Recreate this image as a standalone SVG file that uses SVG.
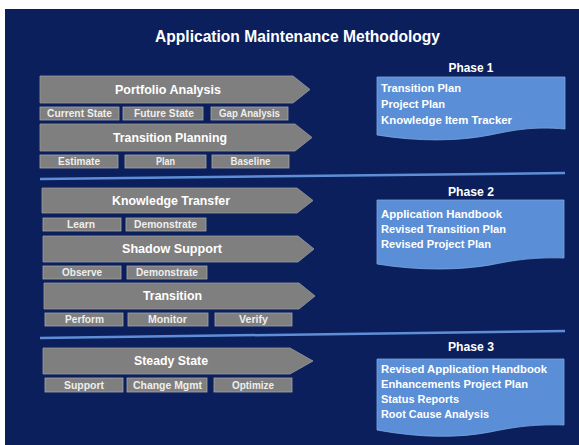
<svg xmlns="http://www.w3.org/2000/svg" width="579" height="445" viewBox="0 0 579 445">
<style>
.arr{fill:#7f7f7f;stroke:#9a9a9a;stroke-width:0.8}
.sub{fill:#7f7f7f;stroke:#a6a6a6;stroke-width:0.8}
.doc{fill:#5a8ed6;stroke:#7fa8e2;stroke-width:0.8}
.sep{stroke:#5e8fd6;stroke-width:2.5;fill:none}
text{font-family:"Liberation Sans",Arial,sans-serif;font-weight:bold;fill:#ffffff}
.at{font-size:13px;text-anchor:middle}
.st{font-size:10px;text-anchor:middle;fill:#eeeeee}
.dt{font-size:11px}
.ph{font-size:13px;text-anchor:middle}
</style>
<rect x="0" y="0" width="579" height="445" fill="#ffffff"/>
<rect x="5" y="9" width="574" height="436" fill="#0b1f5c"/>
<text x="297.5" y="42" style="font-size:16px;text-anchor:middle" textLength="285" lengthAdjust="spacingAndGlyphs">Application  Maintenance Methodology</text>

<g id="connectors">
<line class="sep" x1="40" y1="179" x2="565" y2="173"/>
<line class="sep" x1="40" y1="338" x2="565" y2="331"/>
</g>

<g id="portfolio-analysis">
<path class="arr" d="M40,76 H293 L310,89.5 L293,103 H40 Z"/>
<text class="at" x="168" y="94" textLength="106" lengthAdjust="spacingAndGlyphs">Portfolio Analysis</text>
</g>
<g id="current-state"><rect class="sub" x="40" y="107" width="79" height="13"/><text class="st" x="79.5" y="117" textLength="65" lengthAdjust="spacingAndGlyphs">Current State</text></g>
<g id="future-state"><rect class="sub" x="123" y="107" width="80" height="13"/><text class="st" x="164" y="117" textLength="60" lengthAdjust="spacingAndGlyphs">Future State</text></g>
<g id="gap-analysis"><rect class="sub" x="211" y="107" width="77" height="13"/><text class="st" x="249.5" y="117" textLength="61" lengthAdjust="spacingAndGlyphs">Gap Analysis</text></g>

<g id="transition-planning">
<path class="arr" d="M40,124 H295 L312,137.5 L295,151 H40 Z"/>
<text class="at" x="170" y="142" textLength="114" lengthAdjust="spacingAndGlyphs">Transition Planning</text>
</g>
<g id="estimate"><rect class="sub" x="40" y="155" width="78" height="13"/><text class="st" x="79" y="165" textLength="42" lengthAdjust="spacingAndGlyphs">Estimate</text></g>
<g id="plan"><rect class="sub" x="125" y="155" width="81" height="13"/><text class="st" x="165.5" y="165" textLength="19" lengthAdjust="spacingAndGlyphs">Plan</text></g>
<g id="baseline"><rect class="sub" x="212" y="155" width="77" height="13"/><text class="st" x="250.5" y="165" textLength="40" lengthAdjust="spacingAndGlyphs">Baseline</text></g>

<g id="knowledge-transfer">
<path class="arr" d="M42,188 H297 L313,200.5 L297,213 H42 Z"/>
<text class="at" x="171" y="205" textLength="118" lengthAdjust="spacingAndGlyphs">Knowledge Transfer</text>
</g>
<g id="learn"><rect class="sub" x="43" y="218" width="78" height="13"/><text class="st" x="81" y="228" textLength="28" lengthAdjust="spacingAndGlyphs">Learn</text></g>
<g id="demonstrate-1"><rect class="sub" x="126" y="218" width="80" height="13"/><text class="st" x="165.5" y="228" textLength="63" lengthAdjust="spacingAndGlyphs">Demonstrate</text></g>

<g id="shadow-support">
<path class="arr" d="M43,236 H298 L314,249 L298,262 H43 Z"/>
<text class="at" x="172" y="253" textLength="100" lengthAdjust="spacingAndGlyphs">Shadow Support</text>
</g>
<g id="observe"><rect class="sub" x="43" y="266" width="78" height="13"/><text class="st" x="82" y="276" textLength="40" lengthAdjust="spacingAndGlyphs">Observe</text></g>
<g id="demonstrate-2"><rect class="sub" x="127" y="266" width="80" height="13"/><text class="st" x="167" y="276" textLength="62" lengthAdjust="spacingAndGlyphs">Demonstrate</text></g>

<g id="transition">
<path class="arr" d="M44,283 H299 L315,296 L299,309 H44 Z"/>
<text class="at" x="172.5" y="300" textLength="59" lengthAdjust="spacingAndGlyphs">Transition</text>
</g>
<g id="perform"><rect class="sub" x="45" y="313" width="78" height="13"/><text class="st" x="84.5" y="323" textLength="39" lengthAdjust="spacingAndGlyphs">Perform</text></g>
<g id="monitor"><rect class="sub" x="128" y="313" width="80" height="13"/><text class="st" x="167.5" y="323" textLength="39" lengthAdjust="spacingAndGlyphs">Monitor</text></g>
<g id="verify"><rect class="sub" x="215" y="313" width="77" height="13"/><text class="st" x="253.5" y="323" textLength="29" lengthAdjust="spacingAndGlyphs">Verify</text></g>

<g id="steady-state">
<path class="arr" d="M43,348 H290 L313,361 L290,374 H43 Z"/>
<text class="at" x="171" y="365" textLength="74" lengthAdjust="spacingAndGlyphs">Steady State</text>
</g>
<g id="support"><rect class="sub" x="45" y="378" width="78" height="14"/><text class="st" x="84" y="388.5" textLength="40" lengthAdjust="spacingAndGlyphs">Support</text></g>
<g id="change-mgmt"><rect class="sub" x="127" y="378" width="80" height="14"/><text class="st" x="167.5" y="388.5" textLength="69" lengthAdjust="spacingAndGlyphs">Change Mgmt</text></g>
<g id="optimize"><rect class="sub" x="214" y="378" width="78" height="14"/><text class="st" x="253" y="388.5" textLength="42" lengthAdjust="spacingAndGlyphs">Optimize</text></g>

<g id="phase-1">
<text class="ph" x="471" y="72" textLength="45" lengthAdjust="spacingAndGlyphs">Phase 1</text>
<path class="doc" d="M377,77 H565 V129 C530,126 510,131 490,135 C460,141 420,142 377,135 Z"/>
<text class="dt" x="381" y="92" textLength="80" lengthAdjust="spacingAndGlyphs">Transition Plan</text>
<text class="dt" x="381" y="108" textLength="64" lengthAdjust="spacingAndGlyphs">Project Plan</text>
<text class="dt" x="381" y="123.5" textLength="131" lengthAdjust="spacingAndGlyphs">Knowledge Item Tracker</text>
</g>

<g id="phase-2">
<text class="ph" x="471" y="196" textLength="46" lengthAdjust="spacingAndGlyphs">Phase 2</text>
<path class="doc" d="M377,200 H564 V258 C530,257 510,261 490,265 C460,270 420,271 377,264 Z"/>
<text class="dt" x="381" y="217.5" textLength="121" lengthAdjust="spacingAndGlyphs">Application Handbook</text>
<text class="dt" x="381" y="232.5" textLength="125" lengthAdjust="spacingAndGlyphs">Revised Transition Plan</text>
<text class="dt" x="381" y="248" textLength="110" lengthAdjust="spacingAndGlyphs">Revised Project Plan</text>
</g>

<g id="phase-3">
<text class="ph" x="471" y="351" textLength="46" lengthAdjust="spacingAndGlyphs">Phase 3</text>
<path class="doc" d="M377,359 H564 V425 C530,424 510,428 490,432 C460,438 420,438 377,430 Z"/>
<text class="dt" x="381" y="373" textLength="166" lengthAdjust="spacingAndGlyphs">Revised Application Handbook</text>
<text class="dt" x="381" y="387.5" textLength="147" lengthAdjust="spacingAndGlyphs">Enhancements Project Plan</text>
<text class="dt" x="381" y="403" textLength="78" lengthAdjust="spacingAndGlyphs">Status Reports</text>
<text class="dt" x="381" y="418" textLength="108" lengthAdjust="spacingAndGlyphs">Root Cause Analysis</text>
</g>
</svg>
